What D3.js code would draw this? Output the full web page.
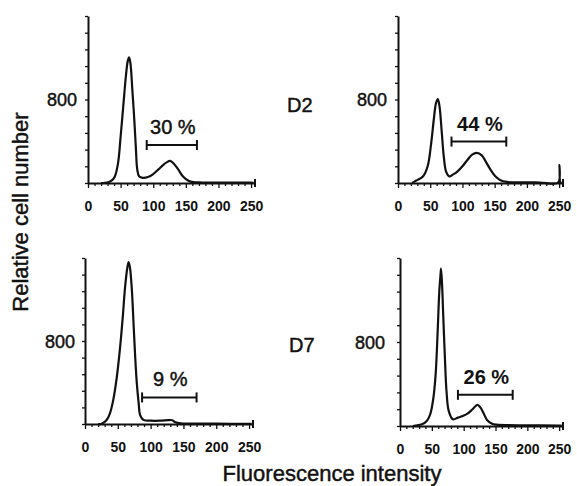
<!DOCTYPE html>
<html>
<head>
<meta charset="utf-8">
<script src="https://cdn.jsdelivr.net/npm/d3@7/dist/d3.min.js"></script>
<style>
  html, body { margin: 0; padding: 0; background: #fff; }
  svg { display: block; }
  text { font-family: "Liberation Sans", Arial, Helvetica, sans-serif; fill: #111; }
  .med { stroke: #111; stroke-width: 0.45px; paint-order: stroke; }
</style>
</head>
<body>
<svg id="chart" width="577" height="486"></svg>
<script>
// ---- data ----
const xTickLabels = [0, 50, 100, 150, 200, 250];
const yLabelValues = [800];
const panelNames = ["", "D2", "", "D7"];
const percentLabels = ["30 %", "44 %", "9 %", "26 %"];
// gate brackets: [from, to, height]
const gates = [[90, 167, 364], [83, 168, 397], [87, 170, 256], [91, 177, 297]];

// histograms: [fluorescence channel, cell count]
const histD0a = [[20,0],[26,2],[32,10],[36,22],[41,60],[46,188],[50,443],[54,731],[58,1018],[61,1170],[63,1203],[65,1150],[68,890],[71,603],[73.5,320],[75.5,130],[78.5,62],[84,50],[92,58],[100,86],[108,130],[115,172],[121,200],[126,212],[131,190],[138,132],[146,60],[154,22],[161,8],[175,5],[200,4],[230,3],[250,3],[254,2]];
const histD2 = [[22,0],[26,16],[31,32],[39,64],[46,160],[51.5,383],[55.5,606],[59,766],[61.8,804],[64.4,734],[68,478],[71,255],[74.5,112],[79.5,64],[85,80],[92.5,112],[100,160],[108,223],[115,271],[122,288],[130,265],[136,207],[143.5,128],[151,64],[159,26],[169,10],[190,6],[220,5],[248.5,5],[250.5,172],[252,5],[254,4]];
const histD0b = [[20,0],[25.5,2],[33,38],[38,102],[43,230],[48.5,453],[53.5,740],[57.5,1027],[61,1314],[64.5,1506],[66.5,1560],[68.5,1510],[71.5,1283],[74,964],[76.5,644],[79,389],[81.8,198],[84,86],[89,40],[100,32],[115,32],[127,38],[133,36],[138,16],[146,6],[170,3],[200,3],[250,2],[254,2]];
const histD7 = [[20,0],[24.5,4],[34.5,16],[42,48],[47.5,112],[52.5,271],[56,494],[59,877],[61.8,1292],[63.4,1420],[64.4,1500],[66,1356],[68,1037],[70.5,654],[73,335],[76.5,144],[83,64],[91,80],[98.5,96],[106,118],[114,160],[121.5,201],[126.5,175],[132,112],[137,54],[144.5,22],[152,13],[170,8],[200,6],[250,5],[254,5]];
const histograms = [histD0a, histD2, histD0b, histD7];

// ---- layout ----
const layout = [
  {x: 88,  y: 16,  w: 167, h: 167, lab: -11, bold: false},
  {x: 398, y: 16,  w: 165, h: 167, lab: -11, bold: true},
  {x: 85,  y: 258, w: 168, h: 166, lab: -10, bold: false},
  {x: 400, y: 258, w: 163, h: 168, lab: -15, bold: true}
];
const nameX = [0, 287, 0, 289];
const nameY = [0, 112, 0, 352];

const svg = d3.select("#chart");

histograms.forEach((data, i) => {
  const L = layout[i];
  const g = svg.append("g").attr("transform", `translate(${L.x},${L.y})`);
  const x = d3.scaleLinear().domain([0, 256]).range([0, L.w]);
  const y = d3.scaleLinear().domain([0, 1600]).range([L.h, 0]);

  // x axis
  const xAxis = d3.axisBottom(x)
    .tickValues(d3.range(0, 251, 10))
    .tickSize(3).tickSizeOuter(0)
    .tickFormat(d => xTickLabels.includes(d) ? d : "");
  const xa = g.append("g").attr("transform", `translate(0,${L.h})`).call(xAxis);
  xa.select(".domain").attr("stroke-width", 2).attr("stroke", "#111");
  xa.selectAll(".tick line").attr("stroke", "#111").attr("stroke-width", 1.3)
    .attr("y2", d => d % 50 === 0 ? 5 : 3);
  xa.selectAll(".tick text").attr("y", 28).attr("dy", 0)
    .style("font-size", "14px").style("font-weight", "bold")
    .style("font-family", "Liberation Sans, Arial, sans-serif")
    .attr("fill", "#111");
  // axis end marker
  g.append("line").attr("x1", L.w).attr("x2", L.w).attr("y1", L.h - 4).attr("y2", L.h + 4)
    .attr("stroke", "#111").attr("stroke-width", 2);

  // y axis
  const yAxis = d3.axisLeft(y)
    .tickValues(d3.range(0, 1601, 160))
    .tickSize(3).tickSizeOuter(0)
    .tickFormat(d => yLabelValues.includes(d) ? d : "");
  const ya = g.append("g").call(yAxis);
  ya.select(".domain").attr("stroke-width", 2).attr("stroke", "#111");
  ya.selectAll(".tick line").attr("stroke", "#111").attr("stroke-width", 1.3);
  ya.selectAll(".tick text").attr("x", L.lab).attr("dy", "0.36em")
    .attr("class", "med")
    .style("font-size", "18px").style("font-family", "Liberation Sans, Arial, sans-serif")
    .attr("fill", "#111");

  // histogram curve
  const line = d3.line().x(d => x(d[0])).y(d => y(d[1])).curve(d3.curveCatmullRom.alpha(0.5));
  g.append("path").datum(data).attr("d", line)
    .attr("fill", "none").attr("stroke", "#111").attr("stroke-width", 2.2).attr("stroke-linejoin", "round");

  // gate bracket
  const [a, b, h] = gates[i];
  const gb = g.append("g").attr("stroke", "#111");
  gb.append("line").attr("x1", x(a)).attr("x2", x(b)).attr("y1", y(h)).attr("y2", y(h)).attr("stroke-width", 2);
  gb.append("line").attr("x1", x(a)).attr("x2", x(a)).attr("y1", y(h) - 5).attr("y2", y(h) + 5).attr("stroke-width", 2);
  gb.append("line").attr("x1", x(b)).attr("x2", x(b)).attr("y1", y(h) - 5).attr("y2", y(h) + 5).attr("stroke-width", 2);
  const pt = g.append("text").attr("x", (x(a) + x(b)) / 2 + 1).attr("y", y(h) - 11)
    .attr("text-anchor", "middle").style("font-size", "20px").text(percentLabels[i]);
  if (L.bold) pt.style("font-weight", "bold"); else pt.attr("class", "med");

  if (panelNames[i]) {
    svg.append("text").attr("x", nameX[i]).attr("y", nameY[i]).attr("class", "med")
      .style("font-size", "20px").text(panelNames[i]);
  }
});

// axis titles
svg.append("text")
  .attr("transform", "translate(28,212) rotate(-90)")
  .attr("text-anchor", "middle").attr("class", "med")
  .style("font-size", "22px")
  .text("Relative cell number");
svg.append("text")
  .attr("x", 332).attr("y", 481)
  .attr("text-anchor", "middle").attr("class", "med")
  .style("font-size", "22px")
  .text("Fluorescence intensity");
</script>
</body>
</html>
